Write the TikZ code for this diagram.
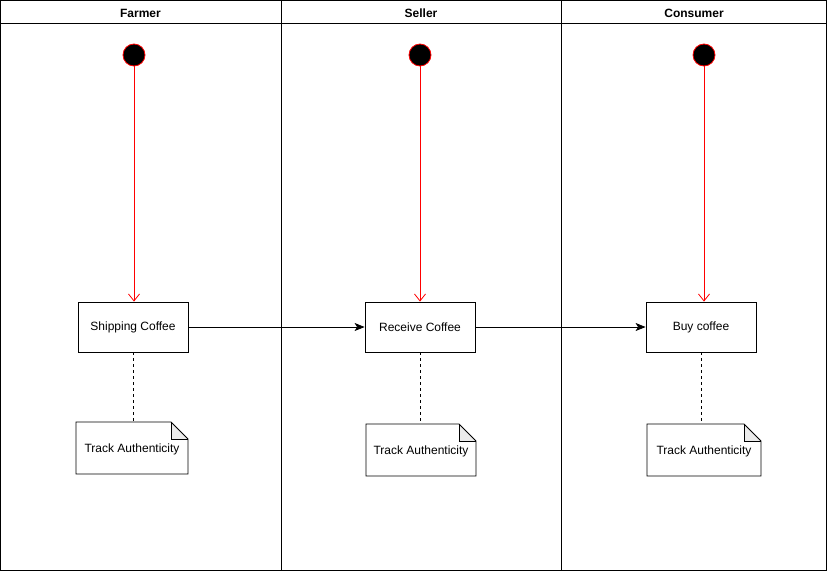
\documentclass[tikz,border=0pt]{standalone}
\usepackage{fontspec}
\setmainfont{Liberation Sans}
\usetikzlibrary{arrows.meta}
\definecolor{foldgray}{HTML}{EBEBEB}
\begin{document}
\begin{tikzpicture}[x=1pt,y=-1pt,
  lanehead/.style={font=\fontsize{12}{14}\selectfont\bfseries},
  startdot/.style={circle,fill=black,draw=red,line width=0.8pt,minimum size=22pt,inner sep=0pt},
  actbox/.style={rectangle,draw=black,line width=0.8pt,minimum width=110pt,minimum height=50pt,inner sep=0pt,font=\fontsize{12}{14}\selectfont},
  notetext/.style={rectangle,draw=none,inner sep=0pt,font=\fontsize{12}{14}\selectfont},
  flow/.style={red,line width=0.8pt,-{Straight Barb[length=7pt,width=11pt]}},
  handoff/.style={black,line width=0.8pt,-{Stealth[length=10pt,width=8pt,inset=2.5pt]}},
  anchorline/.style={black,line width=0.8pt,dash pattern=on 3pt off 3pt}]
\useasboundingbox (0,0) rectangle (827,571);
\fill[white] (0,0) rectangle (827,571);

% swimlanes
\draw[line width=0.9pt] (0.5,0.5) rectangle (826.5,570.5);
\draw[line width=0.9pt] (0.5,23) -- (826.5,23);
\draw[line width=0.9pt] (281,0.5) -- (281,570.5);
\draw[line width=0.9pt] (561,0.5) -- (561,570.5);
\node[lanehead] (hfarmer) at (140.5,13) {Farmer};
\node[lanehead] (hseller) at (421,13) {Seller};
\node[lanehead] (hconsumer) at (694,13) {Consumer};

% start points
\node[startdot] (s1) at (134,55) {};
\node[startdot] (s2) at (420,55) {};
\node[startdot] (s3) at (704,55) {};

% activities
\node[actbox] (ship) at (133,327) {Shipping Coffee};
\node[actbox] (recv) at (420,327) {Receive Coffee};
\node[actbox] (buy) at (701,327) {Buy coffee};

% notes
\newcommand{\notebox}[4]{%
  \fill[white] (#2,#3) -- (#2+#4-17,#3) -- (#2+#4,#3+17) -- (#2+#4,#3+52) -- (#2,#3+52) -- cycle;
  \fill[foldgray] (#2+#4-17,#3) -- (#2+#4,#3+17) -- (#2+#4-17,#3+17) -- cycle;
  \draw[line width=0.8pt,line join=miter] (#2,#3) -- (#2+#4-17,#3) -- (#2+#4,#3+17) -- (#2+#4,#3+52) -- (#2,#3+52) -- cycle;
  \draw[line width=0.6pt] (#2+#4-17,#3) -- (#2+#4-17,#3+17) -- (#2+#4,#3+17);
  \node[notetext] (#1) at (#2+#4/2,#3+27) {Track Authenticity};
  \coordinate (#1top) at (#2+#4/2,#3);}
\notebox{n1}{76}{422}{112}
\notebox{n2}{366}{424}{110}
\notebox{n3}{647}{424}{114}

% connectors
\draw[flow] (s1) -- (s1 |- ship.north);
\draw[flow] (s2) -- (recv);
\draw[flow] (s3) -- (buy.north -| s3);
\draw[handoff] (ship) -- (recv);
\draw[handoff] (recv) -- (buy);
\draw[anchorline] (ship.south) -- (ship.south |- n1top);
\draw[anchorline] (recv.south) -- (recv.south |- n2top);
\draw[anchorline] (buy.south) -- (buy.south |- n3top);
\end{tikzpicture}
\end{document}
